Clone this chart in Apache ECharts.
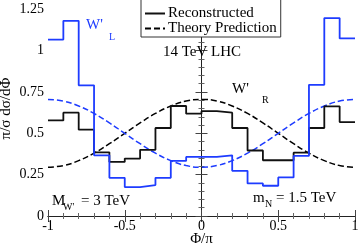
<!DOCTYPE html>
<html>
<head>
<meta charset="utf-8">
<script src="https://cdn.jsdelivr.net/npm/echarts@6/dist/echarts.min.js"></script>
<style>
html,body{margin:0;padding:0;background:#fff;}
#chart{width:360px;height:247px;}
</style>
</head>
<body>
<div id="chart"></div>
<script>
// Bin lower edges (Phi/pi), last bin ends at 1
var binLow = [-1, -0.9, -0.8, -0.7, -0.6, -0.5, -0.4, -0.3, -0.2, -0.1, 0, 0.1, 0.2, 0.3, 0.4, 0.5, 0.6, 0.7, 0.8, 0.9];
var binHighEnd = 1;
// Reconstructed W'_R (black)
var recoR = [0.578, 0.625, 0.522, 0.385, 0.327, 0.347, 0.400, 0.532, 0.665, 0.619, 0.634, 0.625, 0.532, 0.396, 0.337, 0.337, 0.383, 0.532, 0.663, 0.568];
// Reconstructed W'_L (blue)
var recoL = [1.067, 1.180, 0.790, 0.367, 0.231, 0.175, 0.187, 0.231, 0.333, 0.357, 0.357, 0.367, 0.273, 0.197, 0.183, 0.233, 0.363, 0.793, 1.197, 1.074];
// Theory prediction sample points
var theoryX = [-1, -0.9, -0.8, -0.7, -0.6, -0.5, -0.4, -0.3, -0.2, -0.1, 0, 0.1, 0.2, 0.3, 0.4, 0.5, 0.6, 0.7, 0.8, 0.9, 1];
var theoryR = [0.295, 0.305, 0.335, 0.380, 0.437, 0.500, 0.563, 0.620, 0.665, 0.695, 0.705, 0.695, 0.665, 0.620, 0.563, 0.500, 0.437, 0.380, 0.335, 0.305, 0.295];
var theoryL = [0.705, 0.695, 0.665, 0.620, 0.563, 0.500, 0.437, 0.380, 0.335, 0.305, 0.295, 0.305, 0.335, 0.380, 0.437, 0.500, 0.563, 0.620, 0.665, 0.695, 0.705];
var xTicks = [-1, -0.5, 0, 0.5, 1];
var yTicks = [0, 0.25, 0.5, 0.75, 1, 1.25];

function histPairs(vals) {
  var out = binLow.map(function (x, i) { return [x, vals[i]]; });
  out.push([binHighEnd, vals[vals.length - 1]]);
  return out;
}
function curvePairs(vals) {
  return theoryX.map(function (x, i) { return [x, vals[i]]; });
}

var BLUE = '#1e3cff';
var FONT = 'Liberation Serif';
var chart = echarts.init(document.getElementById('chart'), null, {renderer: 'canvas'});

function axisCommon(showLabels) {
  return {
    axisLine: {show: true, lineStyle: {color: '#222', width: 1}},
    axisTick: {show: true, inside: true, length: 6, lineStyle: {color: '#444', width: 1}},
    minorTick: {show: true, splitNumber: 5, length: 3, lineStyle: {color: '#666', width: 1}},
    splitLine: {show: false},
    axisLabel: {show: showLabels, color: '#000', fontFamily: FONT, fontSize: 14, showMinLabel: true, hideOverlap: false}
  };
}

var xBottom = Object.assign(axisCommon(true), {
  type: 'value', position: 'bottom', min: xTicks[0], max: xTicks[xTicks.length - 1], interval: 0.5,
  name: 'Φ/π', nameLocation: 'middle', nameGap: 16, nameMoveOverlap: false,
  nameTextStyle: {fontFamily: FONT, fontSize: 15, color: '#000'}
});
xBottom.axisLabel.margin = 3;
var xTop = Object.assign(axisCommon(false), {
  type: 'value', position: 'top', min: -1, max: 1, interval: 0.5
});
var yLeft = Object.assign(axisCommon(true), {
  type: 'value', position: 'left', min: 0, max: 1.3, interval: 0.25,
  name: 'π/σ dσ/dΦ', nameLocation: 'middle', nameGap: 34, nameMoveOverlap: false,
  nameTextStyle: {fontFamily: FONT, fontSize: 15, color: '#000'}
});
yLeft.axisLabel.showMaxLabel = false;
yLeft.axisLabel.margin = 4;
var yRight = Object.assign(axisCommon(false), {
  type: 'value', position: 'right', min: 0, max: 1.3, interval: 0.25
});

function txt(x, y, s, size, color) {
  return {type: 'text', x: x, y: y, style: {text: s, fontFamily: FONT, fontSize: size, fill: color || '#000', textVerticalAlign: 'middle', textAlign: 'left'}, z: 100};
}

chart.setOption({
  animation: false,
  backgroundColor: '#fff',
  grid: {left: 48, right: 5, top: 1, bottom: 31, containLabel: false, outerBoundsMode: 'none'},
  xAxis: [xBottom, xTop],
  yAxis: [yLeft, yRight],
  legend: {
    data: ['Reconstructed', 'Theory Prediction'],
    orient: 'vertical', left: 141, top: -2,
    padding: [8, 4, 1, 3], itemGap: 0, itemWidth: 20, itemHeight: 12,
    borderColor: '#333', borderWidth: 1, backgroundColor: '#fff',
    itemStyle: {opacity: 0},
    textStyle: {fontFamily: FONT, fontSize: 15, lineHeight: 13, color: '#000', padding: [0, 0, 0, -2]}
  },
  series: [
    {name: 'Theory Prediction', type: 'line', data: curvePairs(theoryR), smooth: true, symbol: 'none',
      lineStyle: {color: '#000', width: 1.5, type: [6, 3]}, itemStyle: {color: '#000'}, z: 2},
    {name: 'Theory L', type: 'line', data: curvePairs(theoryL), smooth: true, symbol: 'none',
      lineStyle: {color: BLUE, width: 1.5, type: [6, 3]}, z: 2},
    {name: 'Reconstructed', type: 'line', data: histPairs(recoR), step: 'end', symbol: 'none',
      lineStyle: {color: '#111', width: 1.8}, itemStyle: {color: '#111'}, z: 3},
    {name: 'Reco L', type: 'line', data: histPairs(recoL), step: 'end', symbol: 'none',
      lineStyle: {color: BLUE, width: 1.8}, z: 4}
  ],
  graphic: [
    txt(86, 25, "W'", 15, BLUE), txt(109, 37, 'L', 10, BLUE),
    txt(163, 52, '14 TeV LHC', 15),
    txt(232, 89, "W'", 15), txt(262, 100, 'R', 10),
    txt(52, 201, 'M', 15), txt(63, 207, "W'", 10), txt(81, 201, '= 3 TeV', 15),
    txt(253, 198, 'm', 15), txt(265, 204, 'N', 10), txt(276, 198, '= 1.5 TeV', 15)
  ]
});
</script>
</body>
</html>
